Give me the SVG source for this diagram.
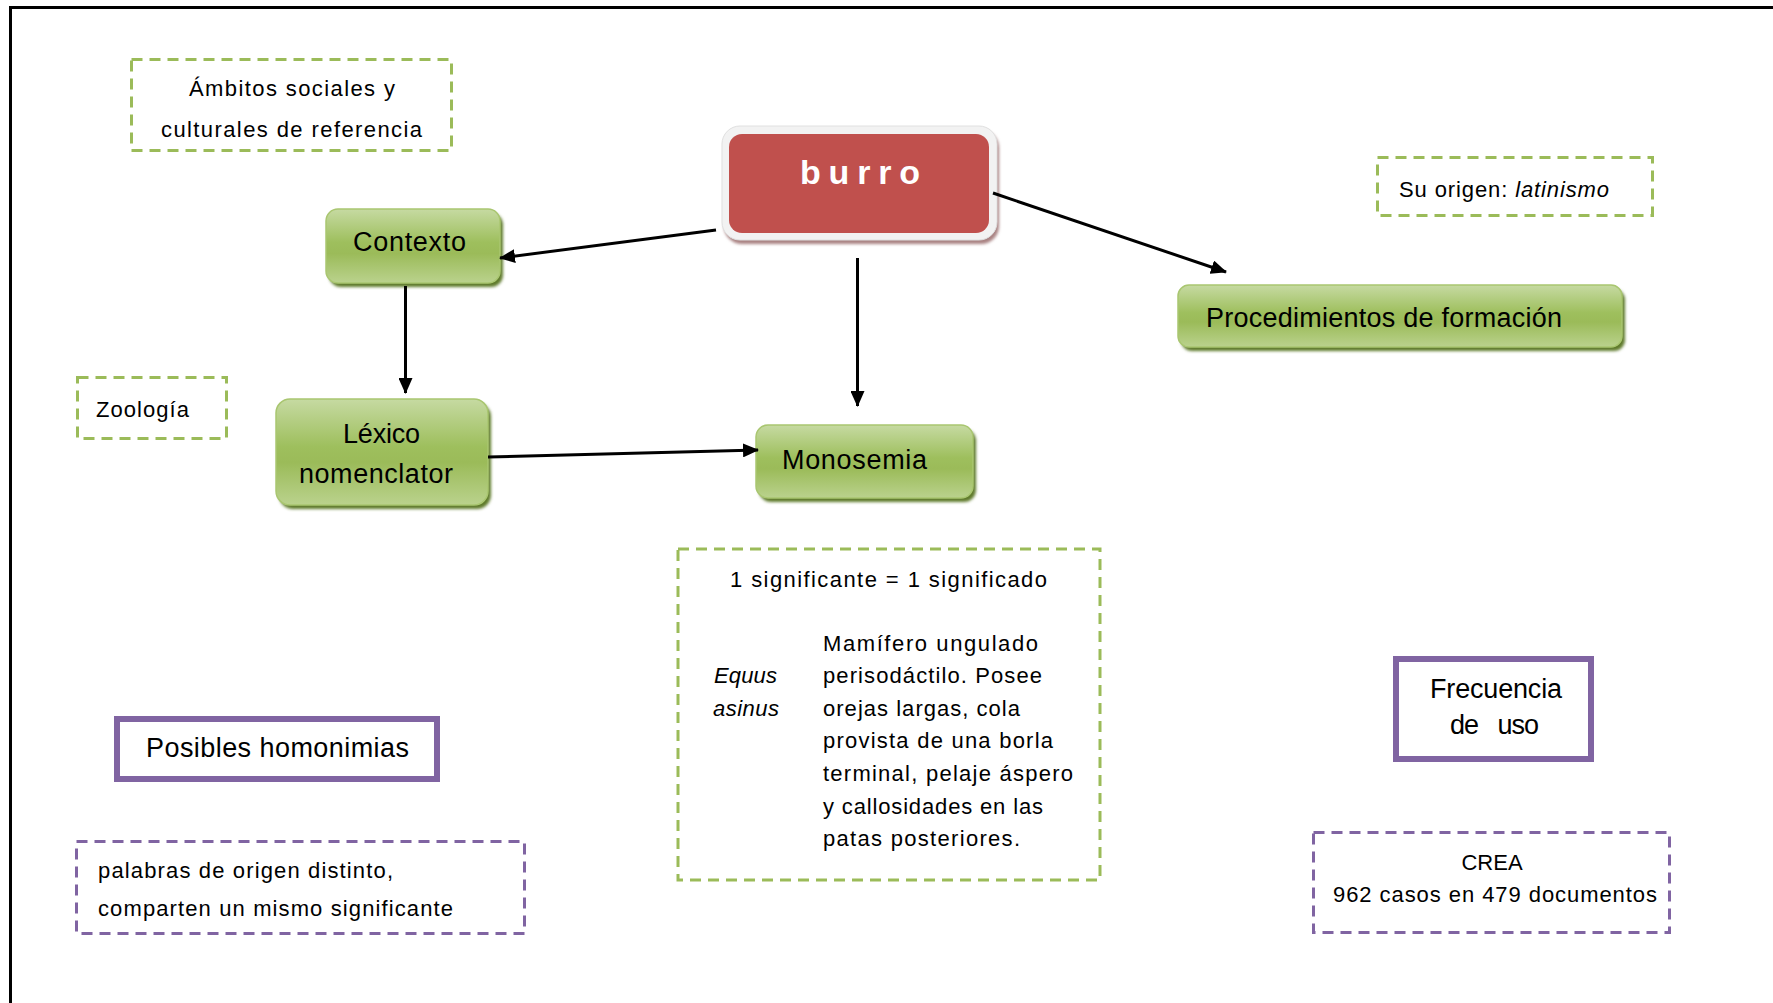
<svg xmlns="http://www.w3.org/2000/svg" width="1773" height="1003" viewBox="0 0 1773 1003">
  <defs>
    <linearGradient id="greenFill" x1="0" y1="0" x2="0" y2="1">
      <stop offset="0" stop-color="#C6DAA2"/>
      <stop offset="0.45" stop-color="#9EBF5D"/>
      <stop offset="0.6" stop-color="#9BBB59"/>
      <stop offset="1" stop-color="#BAD28D"/>
    </linearGradient>
    <filter id="soft" x="-10%" y="-20%" width="120%" height="140%">
      <feGaussianBlur stdDeviation="1.5"/>
    </filter>
    <marker id="arrow" markerUnits="userSpaceOnUse" markerWidth="16" markerHeight="14" refX="15" refY="7" orient="auto">
      <path d="M0,0 L16,7 L0,14 Z" fill="#000"/>
    </marker>
    <style>
      .frame { stroke: #000; stroke-width: 3; fill: none; }
      .gdash { fill: none; stroke: #9BBB59; stroke-width: 3; stroke-dasharray: 11 7; }
      .pdash { fill: none; stroke: #8064A2; stroke-width: 3; stroke-dasharray: 11 7; }
      .psolid { fill: #fff; stroke: #8064A2; stroke-width: 6; }
      .gnode { fill: url(#greenFill); stroke: #A9C670; stroke-width: 1.5; }
      .gshadow { fill: #5E7A2C; filter: url(#soft); }
      .lbl { font-family: "Liberation Sans", Arial, sans-serif; font-size: 27px; fill: #000; }
      .sm { font-family: "Liberation Sans", Arial, sans-serif; font-size: 22px; fill: #000; }
      .it { font-style: italic; }
      .mid { text-anchor: middle; }
      .conn { stroke: #000; stroke-width: 3; fill: none; marker-end: url(#arrow); }
    </style>
  </defs>

  <rect width="1773" height="1003" fill="#fff"/>

  <!-- page frame -->
  <path class="frame" d="M10.5,1003 V7.5 H1773"/>

  <!-- central term -->
  <g id="burro">
    <rect x="724" y="130" width="275" height="114" rx="18" fill="#A98282" filter="url(#soft)"/>
    <rect x="722" y="126" width="275" height="114" rx="18" fill="#F2F2F2" stroke="#E0E0E0" stroke-width="1"/>
    <rect x="729" y="134" width="260" height="99" rx="13" fill="#C0504D"/>
    <text x="800" y="184" font-family="'Liberation Sans', Arial, sans-serif" font-size="34" font-weight="bold" fill="#fff" textLength="120">burro</text>
  </g>

  <g id="contexto">
    <rect class="gshadow" x="329" y="213" width="174" height="74" rx="12"/>
    <rect class="gnode" x="326" y="209" width="174" height="74" rx="12"/>
    <text class="lbl" x="353" y="251" textLength="113">Contexto</text>
  </g>

  <g id="procedimientos">
    <rect class="gshadow" x="1181" y="289" width="444" height="62" rx="11"/>
    <rect class="gnode" x="1178" y="285" width="444" height="62" rx="11"/>
    <text class="lbl" x="1206" y="327" textLength="356">Procedimientos de formación</text>
  </g>

  <g id="lexico">
    <rect class="gshadow" x="279" y="403" width="212" height="106" rx="14"/>
    <rect class="gnode" x="276" y="399" width="212" height="106" rx="14"/>
    <text class="lbl" x="343" y="443" textLength="77">Léxico</text>
    <text class="lbl" x="299" y="483" textLength="154">nomenclator</text>
  </g>

  <g id="monosemia">
    <rect class="gshadow" x="759" y="429" width="217" height="73" rx="12"/>
    <rect class="gnode" x="756" y="425" width="217" height="73" rx="12"/>
    <text class="lbl" x="782" y="469" textLength="145">Monosemia</text>
  </g>

  <g id="ambitos">
    <rect class="gdash" x="131.5" y="59.5" width="320" height="91"/>
    <text class="sm" x="189" y="96" textLength="206">Ámbitos sociales y</text>
    <text class="sm" x="161" y="137" textLength="261">culturales de referencia</text>
  </g>

  <g id="origen">
    <rect class="gdash" x="1377.5" y="157.5" width="275" height="58"/>
    <text class="sm" x="1399" y="197" textLength="210">Su origen: <tspan class="it">latinismo</tspan></text>
  </g>

  <g id="zoologia">
    <rect class="gdash" x="77.5" y="377.5" width="149" height="61"/>
    <text class="sm" x="96" y="417" textLength="93">Zoología</text>
  </g>

  <g id="definicion">
    <rect class="gdash" x="678" y="549" width="422" height="331"/>
    <text class="sm" x="730" y="587" textLength="317">1 significante = 1 significado</text>
    <text class="sm it" x="714" y="683" textLength="63">Equus</text>
    <text class="sm it" x="713" y="716" textLength="66">asinus</text>
    <text class="sm" x="823" y="651" textLength="215">Mamífero ungulado</text>
    <text class="sm" x="823" y="683" textLength="219">perisodáctilo. Posee</text>
    <text class="sm" x="823" y="716" textLength="197">orejas largas, cola</text>
    <text class="sm" x="823" y="748" textLength="230">provista de una borla</text>
    <text class="sm" x="823" y="781" textLength="250">terminal, pelaje áspero</text>
    <text class="sm" x="823" y="814" textLength="220">y callosidades en las</text>
    <text class="sm" x="823" y="846" textLength="197">patas posteriores.</text>
  </g>

  <g id="homonimias">
    <rect class="psolid" x="117" y="719" width="320" height="60"/>
    <text class="lbl" x="146" y="757" textLength="263">Posibles homonimias</text>
  </g>

  <g id="homonimias-def">
    <rect class="pdash" x="76.5" y="841.5" width="448" height="92"/>
    <text class="sm" x="98" y="878" textLength="295">palabras de origen distinto,</text>
    <text class="sm" x="98" y="916" textLength="355">comparten un mismo significante</text>
  </g>

  <g id="frecuencia">
    <rect class="psolid" x="1396" y="659" width="195" height="100"/>
    <text class="lbl" x="1430" y="698" textLength="132">Frecuencia</text>
    <text class="lbl" x="1450" y="734" textLength="89" xml:space="preserve">de   uso</text>
  </g>

  <g id="crea">
    <rect class="pdash" x="1313.5" y="832.5" width="356" height="100"/>
    <text class="sm mid" x="1492" y="870">CREA</text>
    <text class="sm" x="1333" y="902" textLength="324">962 casos en 479 documentos</text>
  </g>

  <!-- connectors, drawn over the node frames -->
  <g id="connectors">
    <line class="conn" x1="716" y1="230" x2="500" y2="258"/>
    <line class="conn" x1="993" y1="193" x2="1226" y2="272"/>
    <line class="conn" x1="857.5" y1="258" x2="857.5" y2="406"/>
    <line class="conn" x1="405.5" y1="286" x2="405.5" y2="393"/>
    <line class="conn" x1="488" y1="457" x2="758" y2="450"/>
  </g>
</svg>
